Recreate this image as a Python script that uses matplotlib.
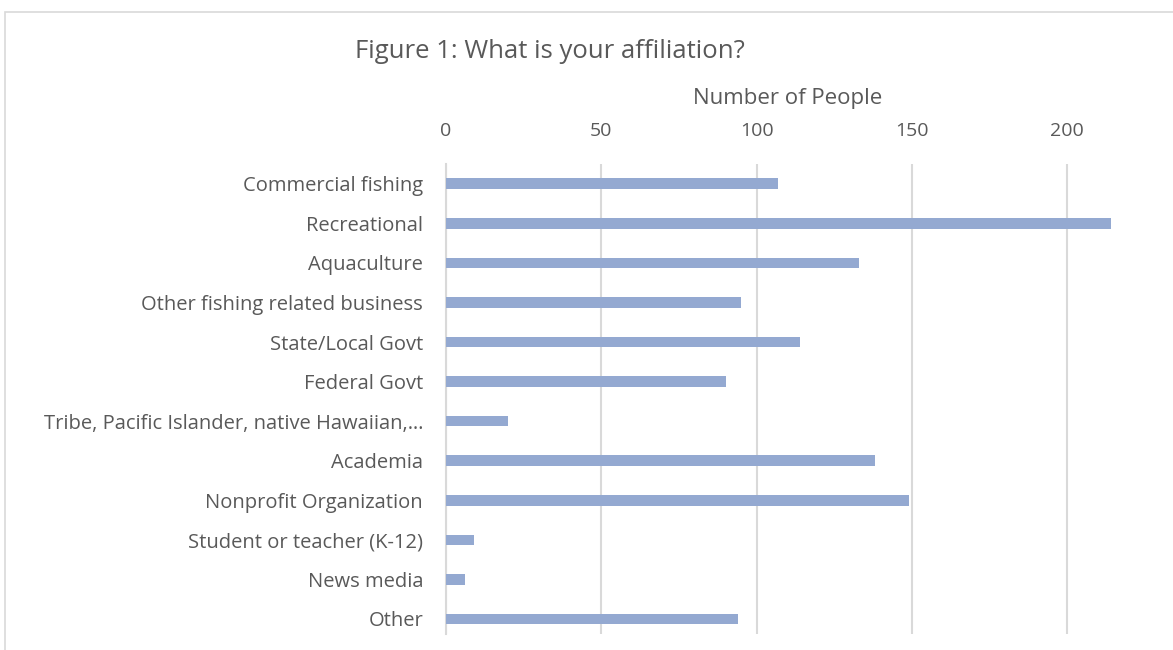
import matplotlib
matplotlib.use("Agg")
import matplotlib.pyplot as plt
from matplotlib.patches import Rectangle

categories = [
    "Commercial fishing",
    "Recreational",
    "Aquaculture",
    "Other fishing related business",
    "State/Local Govt",
    "Federal Govt",
    "Tribe, Pacific Islander, native Hawaiian,\u2026",
    "Academia",
    "Nonprofit Organization",
    "Student or teacher (K-12)",
    "News media",
    "Other",
]
counts = [107, 214, 133, 95, 114, 90, 20, 138, 149, 9, 6, 94]
x_ticks = [0, 50, 100, 150, 200]

plt.rcParams["font.family"] = ["Open Sans", "DejaVu Sans"]
text_color = "#595959"
grid_color = "#d9d9d9"
bar_color = "#94a9d1"

W, H = 1173, 650
fig = plt.figure(figsize=(W / 100, H / 100), dpi=100)

# outer chart frame
fig.patches.append(Rectangle((5 / W, -0.1), 1.2, 1.1 - 12 / H,
                             transform=fig.transFigure, fill=False,
                             edgecolor=grid_color, linewidth=1.2))

x_max = 220
left, right = 446 / W, (446 + x_max * 3.106) / W
top, bottom = 1 - 164 / H, 1 - 634 / H
ax = fig.add_axes([left, bottom, right - left, top - bottom])

y = list(range(len(categories)))
ax.barh(y, counts, height=0.27, color=bar_color, zorder=3)

ax.set_xlim(0, x_max)
ax.set_ylim(11.38, -0.5)
ax.set_xticks(x_ticks)
ax.set_yticks(y)
ax.set_yticklabels(categories)

ax.xaxis.tick_top()
ax.xaxis.set_label_position("top")
ax.set_xlabel("Number of People", fontsize=16, color=text_color, labelpad=13)

ax.tick_params(axis="x", length=0, pad=17.5, labelsize=14, labelcolor=text_color)
ax.tick_params(axis="y", length=0, pad=16.5, labelsize=14.5, labelcolor=text_color)

ax.grid(axis="x", color=grid_color, linewidth=1.5, zorder=0)
for s in ["top", "right", "bottom"]:
    ax.spines[s].set_visible(False)
ax.spines["left"].set_color(grid_color)
ax.spines["left"].set_linewidth(1.5)

fig.text(550 / W, 1 - 52 / H, "Figure 1: What is your affiliation?",
         ha="center", va="center", fontsize=18.5, color=text_color)

fig.savefig("out.png", dpi=100)
